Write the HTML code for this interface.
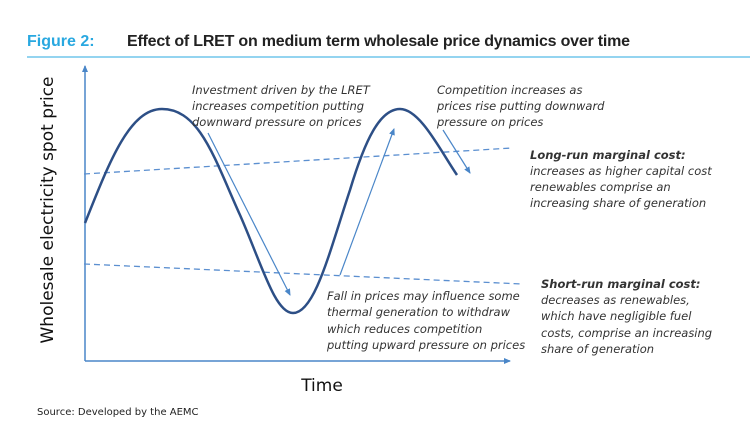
<!DOCTYPE html>
<html><head><style>
body{margin:0;background:#fff;}
svg{display:block;}
.t{font-family:"DejaVu Sans","Liberation Sans",sans-serif;}
.i{font-family:"DejaVu Sans","Liberation Sans",sans-serif;font-style:italic;font-size:11.5px;fill:#333;}
</style></head><body>
<svg width="750" height="421" viewBox="0 0 750 421">
<defs>
<marker id="a" markerWidth="8" markerHeight="8" refX="6" refY="4" orient="auto" markerUnits="userSpaceOnUse"><path d="M0,1 L7,4 L0,7z" fill="#4a86c8"/></marker>
</defs>
<text x="27" y="46" font-family="Liberation Sans, sans-serif" font-size="16" fill="#29a8e0" font-weight="bold">Figure 2:</text>
<text x="127" y="46" font-family="Liberation Sans, sans-serif" font-size="16" fill="#222" font-weight="bold" textLength="503">Effect of LRET on medium term wholesale price dynamics over time</text>
<line x1="27" y1="57" x2="750" y2="57" stroke="#29a8e0" stroke-width="1"/>
<line x1="85" y1="361" x2="85" y2="66" stroke="#4a86c8" stroke-width="1.5" marker-end="url(#a)"/>
<line x1="85" y1="361" x2="510" y2="361" stroke="#4a86c8" stroke-width="1.5" marker-end="url(#a)"/>
<line x1="84" y1="174" x2="512" y2="148" stroke="#5b8fd0" stroke-width="1.3" stroke-dasharray="6,4"/>
<line x1="84" y1="264" x2="522" y2="284" stroke="#5b8fd0" stroke-width="1.3" stroke-dasharray="6,4"/>
<path d="M85,223 C110,160 130,109 162,109 C200,109 215,160 240,215 C262,265 275,313 293,313 C315,313 330,250 350,190 C365,140 380,109 400,109 C420,109 440,150 457,175" fill="none" stroke="#2d4f86" stroke-width="2.5"/>
<line x1="208" y1="133" x2="290" y2="295" stroke="#4a86c8" stroke-width="1.2" marker-end="url(#a)"/>
<line x1="340" y1="275" x2="394" y2="129" stroke="#4a86c8" stroke-width="1.2" marker-end="url(#a)"/>
<line x1="443" y1="130" x2="470" y2="173" stroke="#4a86c8" stroke-width="1.2" marker-end="url(#a)"/>
<text transform="translate(53,210) rotate(-90)" text-anchor="middle" class="t" font-size="17" fill="#111">Wholesale electricity spot price</text>
<text x="322" y="391" text-anchor="middle" class="t" font-size="17" fill="#111">Time</text>
<text class="i" x="192" y="94">Investment driven by the LRET</text>
<text class="i" x="192" y="110">increases competition putting</text>
<text class="i" x="192" y="126">downward pressure on prices</text>
<text class="i" x="437" y="94">Competition increases as</text>
<text class="i" x="437" y="110">prices rise putting downward</text>
<text class="i" x="437" y="126">pressure on prices</text>
<text class="i" x="530" y="159" font-weight="bold">Long-run marginal cost:</text>
<text class="i" x="530" y="175">increases as higher capital cost</text>
<text class="i" x="530" y="191">renewables comprise an</text>
<text class="i" x="530" y="207">increasing share of generation</text>
<text class="i" x="541" y="288" font-weight="bold">Short-run marginal cost:</text>
<text class="i" x="541" y="304">decreases as renewables,</text>
<text class="i" x="541" y="320">which have negligible fuel</text>
<text class="i" x="541" y="337">costs, comprise an increasing</text>
<text class="i" x="541" y="353">share of generation</text>
<text class="i" x="327" y="300">Fall in prices may influence some</text>
<text class="i" x="327" y="316">thermal generation to withdraw</text>
<text class="i" x="327" y="333">which reduces competition</text>
<text class="i" x="327" y="349">putting upward pressure on prices</text>
<text x="37" y="415" class="t" font-size="10" fill="#222">Source: Developed by the AEMC</text>
</svg>
</body></html>
